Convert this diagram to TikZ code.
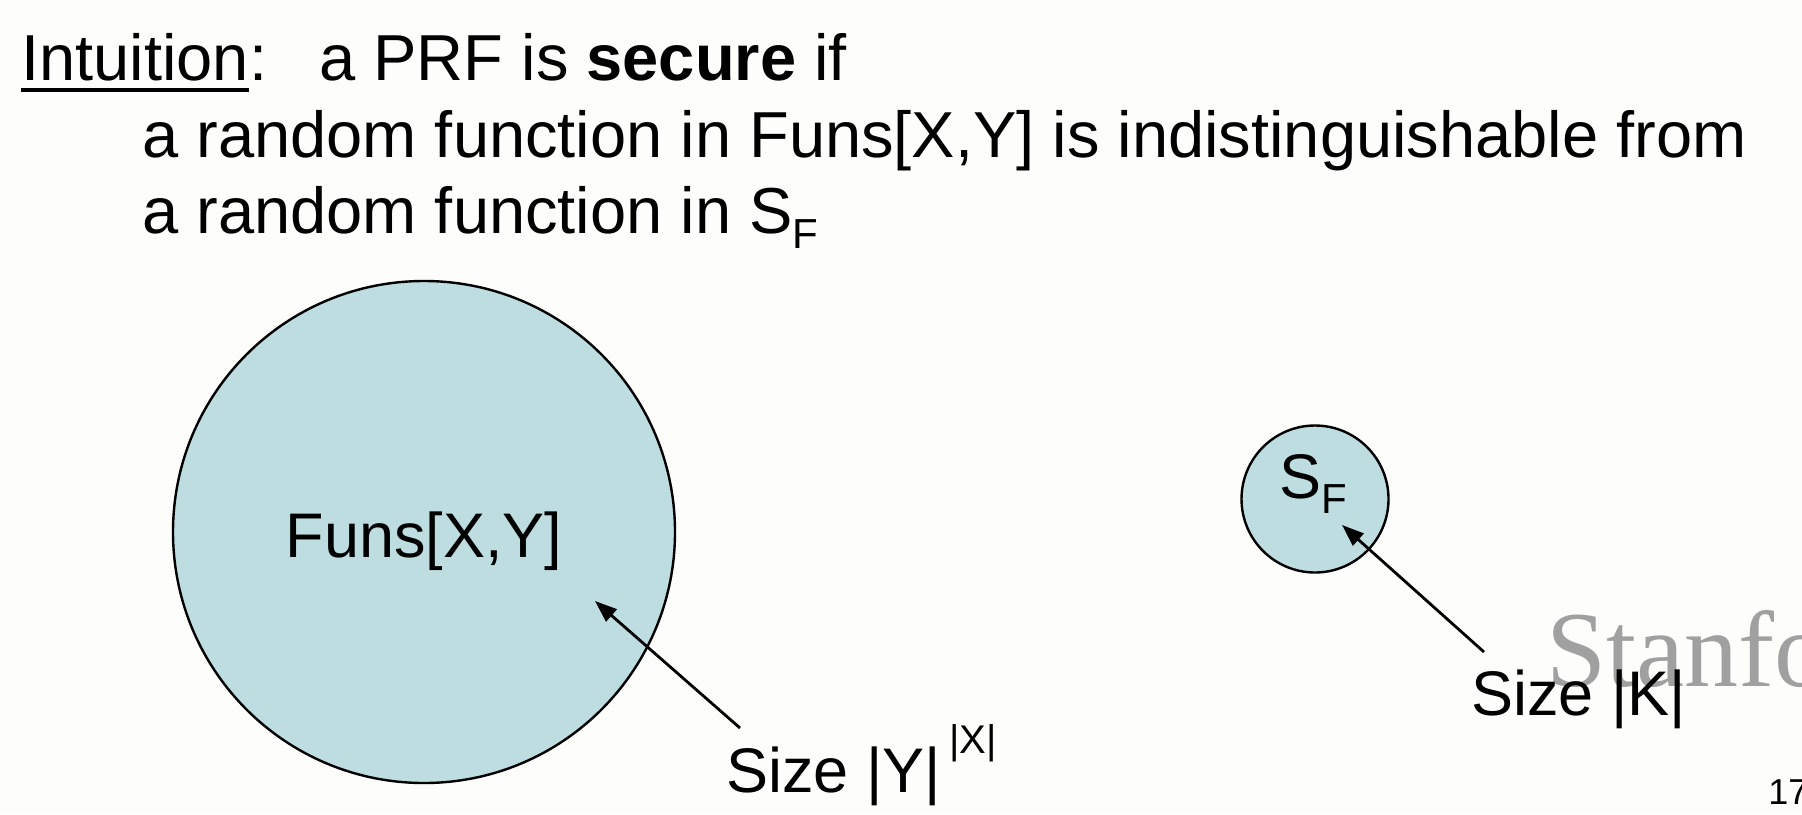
\documentclass[tikz,border=0pt]{standalone}
\usepackage{fontspec}
\setmainfont{Liberation Sans}
\newfontfamily\wmfont{Liberation Serif}
\usetikzlibrary{arrows.meta}
\definecolor{setfill}{RGB}{189,221,224}
\definecolor{pagebg}{RGB}{253,253,251}
\definecolor{wmgray}{RGB}{160,160,160}
\tikzset{
  hdr/.style={anchor=base west, inner sep=0pt, font=\fontsize{32.5}{39}\selectfont},
  lbl/.style={anchor=base west, inner sep=0pt, font=\fontsize{31.5}{38}\selectfont},
  funset/.style={circle, draw=black, line width=1.2pt, fill=setfill, inner sep=0pt},
  pointer/.style={-{Triangle[length=11pt,width=8pt]}, line width=1.4pt}
}
\newcommand{\subF}{\raisebox{-7.5pt}{\fontsize{21}{21}\selectfont F}}

\begin{document}
\begin{tikzpicture}[x=0.5pt,y=-0.5pt]
\fill[pagebg] (0,0) rectangle (1802,814);
\useasboundingbox (0,0) rectangle (1802,814);
% watermark and page number
\begin{scope}
  \clip (0,0) rectangle (1802,814);
  \node[anchor=base west, inner sep=0pt, text=wmgray, font=\wmfont\fontsize{54}{54}\selectfont] (wm) at (1546,686) {Stanford};
  \node[anchor=base west, inner sep=0pt, font=\fontsize{18}{18}\selectfont] (pg) at (1768,804) {17};
\end{scope}
% heading
\node[hdr] (intu) at (21,80) {Intuition};
\node[hdr] (colon) at (intu.base east) {:};
\draw[line width=2.2pt] ([yshift=-5pt]intu.base west) -- ([yshift=-5pt]intu.base east);
\node[hdr] (claim) at (319,80) {a PRF is \textbf{secure} if};
\node[hdr] (line2) at (142,157) {a random function in Funs[X,Y] is indistinguishable from};
\node[hdr] (line3) at (142,233) {a random function in S\subF};
% the two sets
\node[funset, minimum size=251pt] (funs) at (424,532) {};
\node[lbl, anchor=base] (funslbl) at (424,557) {Funs[X,Y]};
\node[funset, minimum size=73.5pt] (sf) at (1315,499) {};
\node[lbl] (sflbl) at (1279,498) {S\subF};
% sizes
\node[lbl] (sizey) at (726,792) {Size |Y|\hspace{4pt}\raisebox{19.5pt}{\fontsize{20}{20}\selectfont |X|}};
\node[lbl] (sizek) at (1471,715) {Size |K|};
\coordinate (funstip) at (595,601);
\coordinate (sftip) at (1342,525);
\draw[pointer] ([xshift=7pt,yshift=32pt]sizey.base west) -- (funstip);
\draw[pointer] ([xshift=6.5pt,yshift=31.5pt]sizek.base west) -- (sftip);
\end{tikzpicture}
\end{document}
